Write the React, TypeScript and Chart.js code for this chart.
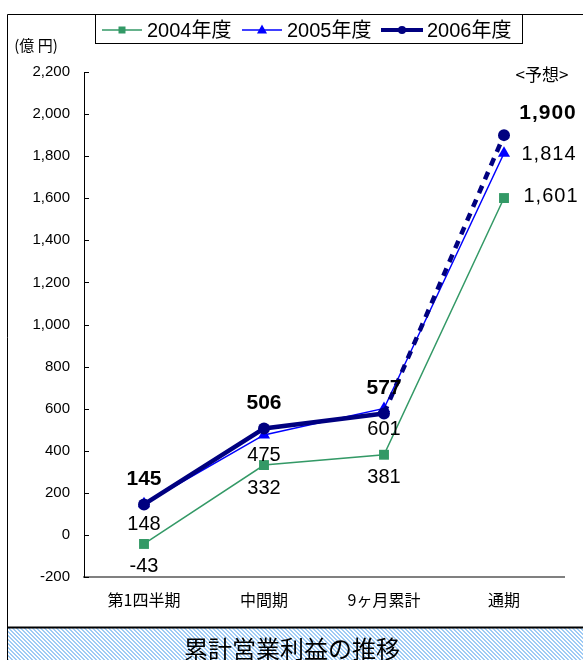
import React, { useEffect, useRef } from "react";
import { Chart, registerables } from "chart.js";

Chart.register(...registerables);

const categories = ["第1四半期", "中間期", "9ヶ月累計", "通期"];
const seriesNames = ["2004年度", "2005年度", "2006年度"];
const fy2004 = [-43, 332, 381, 1601];
const fy2005 = [148, 475, 601, 1814];
const fy2006 = [145, 506, 577, 1900];
const yMin = -200;
const yMax = 2200;
const yStep = 200;
const unitLabel = "(億 円)";
const forecastLabel = "<予想>";
const chartTitle = "累計営業利益の推移";

const colors = ["#339966", "#0000ff", "#000080"];
const pointStyles = ["rect", "triangle", "circle"];

const LATIN = "'Liberation Sans', Arial, 'Noto Sans CJK JP', sans-serif";
const CJK = "'Noto Sans CJK JP', 'Liberation Sans', sans-serif";

function drawMarker(ctx: CanvasRenderingContext2D, style: string, x: number, y: number, r: number, color: string) {
  ctx.save();
  ctx.fillStyle = color;
  ctx.beginPath();
  if (style === "rect") {
    ctx.rect(x - r, y - r, 2 * r, 2 * r);
  } else if (style === "triangle") {
    ctx.moveTo(x, y - r * 1.1);
    ctx.lineTo(x + r, y + r * 0.7);
    ctx.lineTo(x - r, y + r * 0.7);
    ctx.closePath();
  } else {
    ctx.arc(x, y, r, 0, Math.PI * 2);
  }
  ctx.fill();
  ctx.restore();
}

const decorPlugin = {
  id: "decor",
  beforeDraw(chart: any) {
    const ctx: CanvasRenderingContext2D = chart.ctx;
    ctx.save();
    ctx.fillStyle = "#ffffff";
    ctx.fillRect(0, 0, chart.width, chart.height);
    ctx.restore();
  },
  afterDraw(chart: any) {
    const ctx: CanvasRenderingContext2D = chart.ctx;
    const W = chart.width;
    const H = chart.height;
    const area = chart.chartArea;
    const yScale = chart.scales.y;
    const xScale = chart.scales.x;

    // inside tick marks on y axis
    ctx.save();
    ctx.strokeStyle = "#000";
    ctx.lineWidth = 1;
    for (let v = yMin; v <= yMax; v += yStep) {
      const py = Math.round(yScale.getPixelForValue(v)) + 0.5;
      ctx.beginPath();
      ctx.moveTo(area.left, py);
      ctx.lineTo(area.left + 5, py);
      ctx.stroke();
    }
    ctx.restore();

    // outer frame
    ctx.save();
    ctx.strokeStyle = "#000";
    ctx.lineWidth = 1;
    ctx.beginPath();
    ctx.moveTo(7.5, H);
    ctx.lineTo(7.5, 14.5);
    ctx.lineTo(W, 14.5);
    ctx.stroke();
    ctx.restore();

    // unit label
    ctx.save();
    ctx.fillStyle = "#000";
    ctx.font = "15px " + CJK;
    ctx.textAlign = "center";
    ctx.textBaseline = "middle";
    ctx.fillText(unitLabel, 36, 45);
    ctx.restore();

    // forecast label
    ctx.save();
    ctx.fillStyle = "#000";
    ctx.font = "17px " + CJK;
    ctx.textAlign = "center";
    ctx.textBaseline = "middle";
    ctx.fillText(forecastLabel, xScale.getPixelForValue(3) + 38, 75);
    ctx.restore();

    // legend box
    const lx0 = 95.5, ly0 = 14.5, lx1 = 522.5, ly1 = 43.5;
    ctx.save();
    ctx.fillStyle = "#fff";
    ctx.fillRect(lx0, ly0, lx1 - lx0, ly1 - ly0);
    ctx.strokeStyle = "#000";
    ctx.lineWidth = 1;
    ctx.strokeRect(lx0, ly0, lx1 - lx0, ly1 - ly0);
    const items = [
      { x0: 102, x1: 142, tx: 147, lw: 1.5, r: 3.5 },
      { x0: 242, x1: 282, tx: 287, lw: 1.5, r: 5 },
      { x0: 381, x1: 423, tx: 427, lw: 4, r: 4 },
    ];
    const cy = 30;
    items.forEach((it, i) => {
      ctx.strokeStyle = colors[i];
      ctx.lineWidth = it.lw;
      ctx.beginPath();
      ctx.moveTo(it.x0, cy);
      ctx.lineTo(it.x1, cy);
      ctx.stroke();
      drawMarker(ctx, pointStyles[i], (it.x0 + it.x1) / 2, cy, it.r, colors[i]);
      ctx.fillStyle = "#000";
      ctx.font = "20px " + LATIN;
      ctx.textAlign = "left";
      ctx.textBaseline = "middle";
      ctx.fillText(seriesNames[i], it.tx, cy + 1);
    });
    ctx.restore();

    // title bar with hatch
    const tile = document.createElement("canvas");
    tile.width = 4;
    tile.height = 4;
    const tctx = tile.getContext("2d") as CanvasRenderingContext2D;
    tctx.fillStyle = "#ffffff";
    tctx.fillRect(0, 0, 4, 4);
    tctx.fillStyle = "#9fcbf5";
    for (let yy = 0; yy < 4; yy++) {
      for (let xx = 0; xx < 4; xx++) {
        const d = (((xx - yy) % 4) + 4) % 4;
        if (d === 0 || d === 1) tctx.fillRect(xx, yy, 1, 1);
      }
    }
    const pattern = ctx.createPattern(tile, "repeat");
    const barTop = 627.5;
    ctx.save();
    if (pattern) ctx.fillStyle = pattern;
    ctx.fillRect(8, barTop, W - 8, H - barTop);
    ctx.strokeStyle = "#000";
    ctx.lineWidth = 2;
    ctx.beginPath();
    ctx.moveTo(7, barTop);
    ctx.lineTo(W, barTop);
    ctx.stroke();
    ctx.lineWidth = 1;
    ctx.beginPath();
    ctx.moveTo(7.5, barTop);
    ctx.lineTo(7.5, H);
    ctx.stroke();
    ctx.fillStyle = "#000";
    ctx.font = "24px " + CJK;
    ctx.textAlign = "center";
    ctx.textBaseline = "middle";
    ctx.fillText(chartTitle, 292, 649);
    ctx.restore();
  },
};

const labelPlugin = {
  id: "valueLabels",
  afterDatasetsDraw(chart: any) {
    const ctx: any = chart.ctx;
    const place = [
      { dy: 23, bold: false, lastDx: 47, lastDy: -2 },
      { dy: 21, bold: false, lastDx: 45, lastDy: 1 },
      { dy: -25, bold: true, lastDx: 44, lastDy: -22 },
    ];
    ctx.save();
    ctx.fillStyle = "#000";
    ctx.textAlign = "center";
    ctx.textBaseline = "middle";
    chart.data.datasets.forEach((ds: any, di: number) => {
      const meta = chart.getDatasetMeta(di);
      const p = place[di];
      ctx.font = (p.bold ? "bold 21px " : "20px ") + LATIN;
      meta.data.forEach((el: any, i: number) => {
        const v = ds.data[i];
        const text = v.toLocaleString("en-US");
        const last = i === ds.data.length - 1;
        ctx.letterSpacing = last ? "1px" : "0px";
        const x = el.x + (last ? p.lastDx : 0);
        const y = el.y + (last ? p.lastDy : p.dy);
        ctx.fillText(text, x, y);
      });
    });
    ctx.letterSpacing = "0px";
    ctx.restore();
  },
};

export default function App() {
  const ref = useRef<HTMLCanvasElement | null>(null);
  useEffect(() => {
    if (!ref.current) return;
    const chart = new Chart(ref.current, {
      type: "line",
      data: {
        labels: categories,
        datasets: [
          {
            label: seriesNames[0],
            data: fy2004,
            borderColor: colors[0],
            backgroundColor: colors[0],
            borderWidth: 1.5,
            pointStyle: "rect",
            pointRadius: 7,
            pointBorderWidth: 0,
            pointBackgroundColor: colors[0],
            tension: 0,
            order: 3,
          },
          {
            label: seriesNames[1],
            data: fy2005,
            borderColor: colors[1],
            backgroundColor: colors[1],
            borderWidth: 1.5,
            pointStyle: "triangle",
            pointRadius: 7,
            pointBorderWidth: 0,
            pointBackgroundColor: colors[1],
            tension: 0,
            order: 2,
          },
          {
            label: seriesNames[2],
            data: fy2006,
            borderColor: colors[2],
            backgroundColor: colors[2],
            borderWidth: 4.5,
            pointStyle: "circle",
            pointRadius: 6,
            pointBorderWidth: 0,
            pointBackgroundColor: colors[2],
            tension: 0,
            order: 1,
            segment: {
              borderDash: (c: any) => (c.p1DataIndex === fy2006.length - 1 ? [8, 7] : undefined),
            },
          } as any,
        ],
      },
      options: {
        responsive: false,
        animation: false,
        devicePixelRatio: 1,
        layout: { padding: { left: 0, right: 19, top: 72, bottom: 43 } },
        plugins: {
          legend: { display: false },
          tooltip: { enabled: false },
          title: { display: false },
        },
        scales: {
          x: {
            type: "category",
            offset: true,
            grid: { display: false, drawTicks: false, drawOnChartArea: false },
            border: { display: true, color: "#808080", width: 2 },
            ticks: {
              color: "#000",
              font: { family: CJK, size: 16 },
              padding: 13,
              maxRotation: 0,
              autoSkip: false,
            },
            afterFit: (s: any) => {
              s.height = 40;
            },
          },
          y: {
            type: "linear",
            min: yMin,
            max: yMax,
            grid: { display: false, drawTicks: false, drawOnChartArea: false },
            border: { display: true, color: "#000", width: 1 },
            ticks: {
              stepSize: yStep,
              color: "#000",
              font: { family: LATIN, size: 15 },
              padding: 14,
              callback: (v: any) => Number(v).toLocaleString("en-US"),
            },
            afterFit: (s: any) => {
              s.width = 84;
            },
          },
        },
      },
      plugins: [decorPlugin, labelPlugin],
    });
    return () => chart.destroy();
  }, []);
  return (
    <div style={{ position: "absolute", left: 0, top: 0, width: 583, height: 660, overflow: "hidden" }}>
      <canvas ref={ref} width={583} height={660} style={{ display: "block", width: 583, height: 660 }} />
    </div>
  );
}
